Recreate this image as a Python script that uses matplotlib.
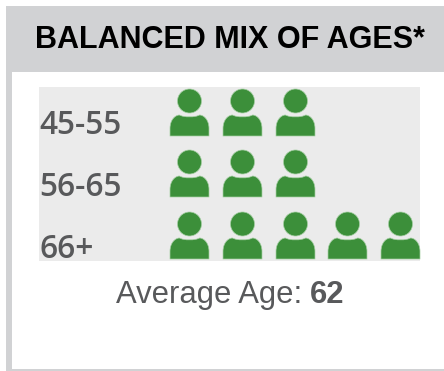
import numpy as np
import matplotlib
matplotlib.use("Agg")
import matplotlib.pyplot as plt
from matplotlib.patches import Rectangle
from matplotlib.path import Path

title = "BALANCED MIX OF AGES*"
age_groups = ["45-55", "56-65", "66+"]
people_counts = [3, 3, 5]
footer_label = "Average Age:"
average_age = "62"

GREEN = "#3c8f3a"
EDGE = "#a5cfa3"
BORDER = "#d1d2d4"
PANEL = "#ebebeb"
GREY_TEXT = "#58595b"

fig = plt.figure(figsize=(4.44, 3.71), dpi=100, facecolor="white")

# Card frame, in pixel coordinates
bg = fig.add_axes([0, 0, 1, 1])
bg.set_xlim(0, 444)
bg.set_ylim(371, 0)
bg.axis("off")
bg.add_patch(Rectangle((6, 6), 438, 365, color=BORDER, lw=0))
bg.add_patch(Rectangle((12, 71.5), 432, 297, color="white", lw=0))
bg.text(230, 48, title, fontsize=22, fontweight="bold", family="Liberation Sans",
        color="black", ha="center", va="baseline")
bg.text(302, 303, footer_label, fontsize=22.3, family="Liberation Sans",
        color=GREY_TEXT, ha="right", va="baseline")
bg.text(310, 303, average_age, fontsize=22.3, fontweight="bold", family="Liberation Sans",
        color=GREY_TEXT, ha="left", va="baseline")

# Person icon: head and shoulders
head = Path.circle((0, 11.5), 12)
body = Path(
    [(-19.5, -23.5), (-19.5, -16), (-19.5, -7), (-14, -2.5), (-10, -2.5),
     (-6, -5), (6, -5), (10, -2.5), (14, -2.5), (19.5, -7), (19.5, -16),
     (19.5, -23.5), (-19.5, -23.5)],
    [Path.MOVETO, Path.LINETO, Path.CURVE4, Path.CURVE4, Path.CURVE4,
     Path.CURVE4, Path.CURVE4, Path.CURVE4, Path.CURVE4, Path.CURVE4, Path.CURVE4,
     Path.LINETO, Path.CLOSEPOLY],
)
person = Path.make_compound_path(head, body)

# Pictogram panel: x is the person number, y is the age group
ax = fig.add_axes([39 / 444, 1 - 261 / 371, 381 / 444, 174 / 371])
ax.set_facecolor(PANEL)
ax.set_xlim(-2.844, 4.379)
ax.set_ylim(2.42, -0.398)
ax.set_xticks([])
ax.set_yticks([])
for spine in ax.spines.values():
    spine.set_visible(False)

for row, (group, count) in enumerate(zip(age_groups, people_counts)):
    columns = np.arange(count)
    ax.scatter(columns, np.full(count, row), marker=person, s=1145,
               color=GREEN, edgecolors=EDGE, linewidths=0.5)
    ax.annotate(group, (0, row), xycoords=ax.get_yaxis_transform(), xytext=(0.5, -10.2),
                textcoords="offset points", fontsize=22.8, family="Open Sans",
                fontweight="semibold", color=GREY_TEXT, ha="left", va="center")

fig.savefig("out.png", dpi=100)
plt.close(fig)
